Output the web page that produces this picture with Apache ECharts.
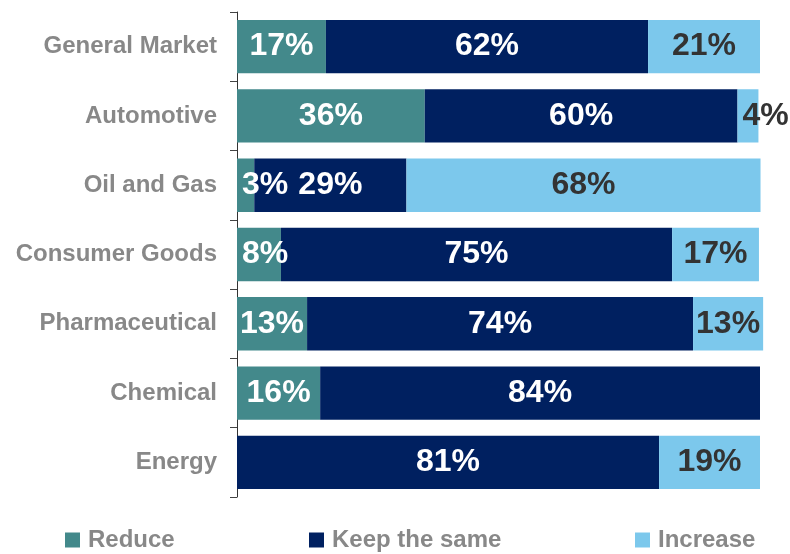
<!DOCTYPE html>
<html>
<head>
<meta charset="utf-8">
<script src="https://cdn.jsdelivr.net/npm/echarts@6/dist/echarts.min.js"></script>
<style>html,body{margin:0;padding:0;background:#fff;}#c{width:790px;height:554px;}</style>
</head>
<body>
<div id="c"></div>
<script>
var categories = ['General Market','Automotive','Oil and Gas','Consumer Goods','Pharmaceutical','Chemical','Energy'];
var reduceVals = [17.0, 35.9, 3.3, 8.4, 13.4, 15.9, 0];
var keepVals = [61.6, 59.8, 29.1, 74.8, 73.8, 84.1, 80.7];
var increaseVals = [21.4, 4.0, 67.7, 16.6, 13.4, 0, 19.3];
var seriesNames = ['Reduce','Keep the same','Increase'];
var colors = ['#43898B','#002060','#7CC8EC'];

var FONT = '"Liberation Sans", Arial, sans-serif';
function fmt(p){ return p.value > 0 ? Math.round(p.value) + '%' : ''; }
function withSmallLabels(arr){
  return arr.map(function(v){
    if (v > 0 && v < 10) {
      return {value: v, label: {position: 'insideLeft', distance: 5}};
    }
    return v;
  });
}
function mk(name, data, color, labelColor){
  return {
    name: name, type: 'bar', stack: 'total', data: withSmallLabels(data),
    barCategoryGap: '23%', clip: false,
    itemStyle: {color: color},
    label: {show: true, position: 'inside', formatter: fmt, color: labelColor,
            fontFamily: FONT, fontWeight: 'bold', fontSize: 32},
    emphasis: {disabled: true}
  };
}
var chart = echarts.init(document.getElementById('c'), null, {renderer: 'canvas'});
var legendBase = {orient: 'horizontal', top: 528, padding: 0, itemWidth: 15, itemHeight: 15, itemGap: 0,
  icon: 'rect', textStyle: {color: '#888', fontFamily: FONT, fontWeight: 'bold', fontSize: 24, lineHeight: 24, padding: [0,0,0,3]},
  selectedMode: false};
chart.setOption({
  animation: false,
  color: colors,
  grid: {left: 237, right: 30, top: 12, bottom: 57},
  xAxis: {type: 'value', min: 0, max: 100, show: false},
  yAxis: {
    type: 'category', data: categories, inverse: true,
    axisLine: {show: true, lineStyle: {color: '#333', width: 1}},
    axisTick: {show: true, length: 7, lineStyle: {color: '#444'}},
    axisLabel: {color: '#888', fontFamily: FONT, fontWeight: 'bold', fontSize: 24, margin: 20}
  },
  legend: [
    Object.assign({}, legendBase, {left: 65, data: [seriesNames[0]]}),
    Object.assign({}, legendBase, {left: 309, data: [seriesNames[1]]}),
    Object.assign({}, legendBase, {left: 635, data: [seriesNames[2]]})
  ],
  series: [
    mk(seriesNames[0], reduceVals, colors[0], '#fff'),
    mk(seriesNames[1], keepVals, colors[1], '#fff'),
    mk(seriesNames[2], increaseVals, colors[2], '#333')
  ]
});
</script>
</body>
</html>
